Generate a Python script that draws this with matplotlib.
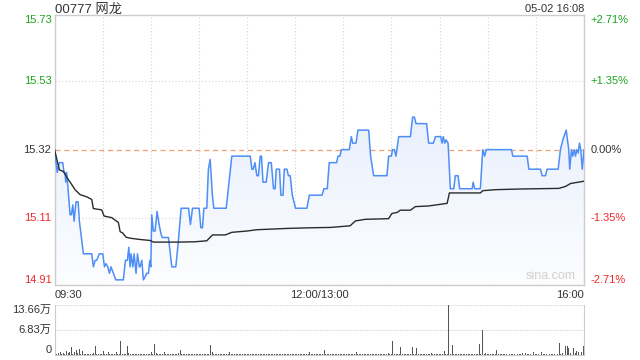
import numpy as np
import matplotlib
matplotlib.use("Agg")
import matplotlib.pyplot as plt
from matplotlib.colors import LinearSegmentedColormap

plt.rcParams["font.family"] = ["Liberation Sans", "Noto Sans CJK SC", "DejaVu Sans"]

TITLE = "00777 网龙"
STAMP = "05-02 16:08"
PREV_CLOSE = 15.32
PRICE_TICKS = [15.73, 15.53, 15.32, 15.11, 14.91]
PCT_LABELS = ["+2.71%", "+1.35%", "0.00%", "-1.35%", "-2.71%"]
TIME_LABELS = ["09:30", "12:00/13:00", "16:00"]
VOL_TICKS = [0, 6.83, 13.66]
VOL_LABELS = ["0", "6.83万", "13.66万"]

# price line, minutes after open (0..330, lunch break removed)
price_min = [0, 1.7, 3.0, 5.1, 5.9, 6.5, 7.0, 7.6, 8.6, 9.7, 10.5, 11.4, 12.2, 13.4, 14.7,
             15.5, 17.0, 18.0, 23.2, 24.2, 25.3, 26.3, 27.9, 30.1, 31.1, 32.1, 33.2, 34.2,
             35.2, 36.7, 38.2, 42.9, 44.2, 45.4, 46.3, 47.1, 47.7, 48.8, 49.6, 50.8, 51.7,
             52.9, 53.3, 54.4, 55.4, 56.5, 57.5, 58.5, 59.4, 60.0, 60.6, 61.6, 62.7, 63.9,
             65.2, 66.4, 67.2, 71.0, 73.1, 75.6, 77.2, 78.9, 83.5, 84.7, 86.0, 90.1, 91.2,
             92.2, 93.1, 94.9, 95.9, 97.0, 98.4, 99.3, 107.0, 110.5, 122.0, 123.0, 123.8,
             124.9, 126.1, 127.1, 128.2, 129.0, 129.9, 131.9, 133.4, 135.1, 136.5, 137.5,
             138.2, 140.2, 141.1, 142.4, 143.2, 144.8, 145.8, 146.9, 148.2, 150.2, 157.3,
             158.8, 166.7, 167.9, 170.0, 171.2, 175.8, 176.7, 177.9, 178.7, 183.7, 185.0,
             185.8, 187.9, 189.1, 195.8, 197.0, 198.9, 207.2, 208.2, 209.9, 210.7, 211.8,
             212.8, 214.5, 221.8, 223.2, 224.3, 225.3, 231.9, 233.2, 236.1, 237.4, 240.7,
             241.5, 242.3, 243.2, 244.0, 245.3, 246.7, 248.8, 249.8, 251.5, 252.5, 260.3,
             260.9, 261.9, 265.4, 266.9, 268.1, 269.0, 284.8, 285.6, 294.6, 295.6, 302.9,
             303.9, 306.0, 307.0, 313.9, 315.3, 316.8, 318.9, 320.5, 321.1, 322.2, 323.0,
             323.9, 324.7, 325.5, 326.4, 327.2, 328.0, 328.9, 330.0]
price = [15.32, 15.25, 15.28, 15.28, 15.25, 15.25, 15.22, 15.25, 15.19, 15.12, 15.12, 15.15,
         15.10, 15.16, 15.16, 15.10, 15.04, 15.00, 15.00, 14.96, 14.98, 14.98, 15.00, 15.00,
         14.96, 14.97, 14.96, 14.94, 14.96, 14.94, 14.92, 14.92, 14.98, 14.98, 15.02, 14.96,
         15.00, 14.96, 15.00, 14.94, 15.00, 14.96, 14.96, 14.98, 14.92, 14.93, 14.94, 14.94,
         14.98, 14.96, 15.12, 15.07, 15.07, 15.13, 15.09, 15.06, 15.05, 15.05, 14.96, 14.96,
         15.04, 15.14, 15.14, 15.09, 15.14, 15.14, 15.08, 15.08, 15.14, 15.14, 15.26, 15.29,
         15.18, 15.14, 15.14, 15.30, 15.30, 15.26, 15.26, 15.28, 15.24, 15.24, 15.30, 15.30,
         15.22, 15.22, 15.28, 15.28, 15.20, 15.20, 15.26, 15.26, 15.18, 15.18, 15.26, 15.26,
         15.24, 15.24, 15.18, 15.14, 15.14, 15.18, 15.18, 15.20, 15.20, 15.28, 15.28, 15.30,
         15.30, 15.32, 15.32, 15.36, 15.34, 15.34, 15.38, 15.38, 15.30, 15.24, 15.24, 15.30,
         15.30, 15.32, 15.32, 15.30, 15.36, 15.36, 15.42, 15.42, 15.40, 15.40, 15.34, 15.34,
         15.36, 15.36, 15.34, 15.36, 15.34, 15.35, 15.34, 15.20, 15.20, 15.24, 15.24, 15.20,
         15.20, 15.22, 15.20, 15.20, 15.32, 15.30, 15.32, 15.32, 15.30, 15.30, 15.26, 15.26,
         15.24, 15.24, 15.26, 15.26, 15.32, 15.35, 15.38, 15.32, 15.26, 15.32, 15.30, 15.32,
         15.30, 15.32, 15.31, 15.34, 15.32, 15.26, 15.32]

# average price line
avg_min = [0, 3.0, 5.5, 8.6, 10.7, 12.8, 15.9, 20.1, 23.2, 24.2, 29.4, 30.9, 35.7, 39.8,
           40.9, 42.5, 44.6, 47.1, 53.3, 59.6, 61.6, 77.2, 87.6, 94.9, 98.4, 106.4, 110.5,
           119.9, 126.1, 144.8, 159.4, 171.7, 184.2, 187.5, 193.7, 208.2, 210.3, 213.5,
           215.5, 221.8, 224.9, 233.2, 244.7, 246.1, 265.4, 266.9, 274.8, 289.3, 314.3,
           318.5, 321.6, 329.9]
avg = [15.32, 15.258, 15.253, 15.228, 15.213, 15.197, 15.182, 15.175, 15.167, 15.139,
       15.135, 15.116, 15.111, 15.096, 15.068, 15.064, 15.051, 15.048, 15.044, 15.041,
       15.036, 15.036, 15.037, 15.040, 15.058, 15.058, 15.066, 15.070, 15.074, 15.078,
       15.080, 15.081, 15.086, 15.101, 15.106, 15.108, 15.124, 15.127, 15.134, 15.134,
       15.145, 15.147, 15.155, 15.187, 15.187, 15.194, 15.197, 15.199, 15.201, 15.207,
       15.216, 15.223]

# volume per minute, in 万 shares
volume = [
    0.4, 0.3, 0.5, 0.9, 0.4, 0.6, 0.3, 1.2, 0.5, 0.9, 2.1, 0.4, 0.9, 1.4, 0.5, 1.6, 0.4, 1.0, 0.3, 0.2,
    0.3, 0.4, 0.2, 0.3, 0.5, 2.4, 0.3, 0.2, 0.4, 0.3,
    1.2, 0.3, 0.2, 0.9, 0.4, 0.3, 0.2, 0.4, 0.7, 0.3, 0.2, 3.7, 0.4, 0.3, 0.2, 2.5, 0.6, 0.3, 0.2, 0.3,
    0.2, 0.4, 0.3, 0.2, 0.3, 0.2, 0.4, 0.2, 0.3, 0.2,
    0.7, 0.3, 2.9, 0.5, 0.3, 0.2, 0.4, 0.3, 0.9, 0.2, 0.3, 0.2, 0.4, 0.3, 0.2, 0.3, 0.4, 0.6, 1.5, 0.4,
    0.3, 0.2, 0.3, 0.2, 0.4, 0.2, 0.3, 0.2, 0.3, 0.2,
    0.3, 0.2, 0.4, 0.2, 0.3, 0.2, 0.3, 2.8, 0.9, 0.4, 0.3, 0.2, 0.3, 0.2, 0.4, 0.2, 0.3, 0.2, 0.2, 0.9,
    0.3, 0.2, 0.3, 0.2, 0.2, 0.3, 0.2, 0.4, 0.2, 0.3,
    0.2, 0.3, 0.2, 0.4, 0.2, 0.2, 0.3, 0.2, 0.4, 0.2, 0.3, 0.2, 0.2, 0.3, 0.2, 0.4, 0.2, 0.3, 0.2, 0.2,
    0.3, 0.2, 0.4, 0.2, 0.2, 0.3, 0.2, 0.3, 0.2, 0.4,
    0.3, 0.2, 0.3, 0.2, 0.4, 0.2, 0.3, 0.2, 0.3, 0.9, 0.2, 0.3, 0.2, 0.4, 0.2, 0.3, 0.2, 0.3, 1.45, 0.3,
    0.2, 0.3, 0.2, 0.4, 0.2, 0.3, 0.2, 0.3, 0.2, 0.4,
    0.2, 0.3, 0.2, 0.3, 0.4, 0.2, 0.3, 0.2, 0.9, 0.3, 0.2, 0.4, 0.2, 0.3, 0.2, 0.3, 0.2, 0.4, 0.3, 0.2,
    0.3, 0.2, 0.3, 0.2, 0.4, 0.2, 0.3, 0.2, 0.6, 0.3,
    0.3, 3.9, 0.4, 0.2, 0.3, 0.2, 2.3, 0.3, 0.2, 0.3, 0.2, 0.4, 0.2, 2.3, 0.3, 0.2, 1.8, 0.3, 0.2, 0.3,
    0.2, 0.3, 0.2, 0.4, 0.2, 0.5, 0.3, 0.2, 0.3, 0.2,
    0.3, 0.2, 0.4, 1.2, 0.3, 0.2, 13.66, 0.4, 2.8, 0.3, 0.2, 0.3, 0.2, 0.3, 0.2, 0.4, 0.2, 0.3, 0.2, 0.3,
    0.2, 0.3, 0.2, 0.3, 0.2, 3.1, 0.3, 6.9, 0.4, 0.6,
    0.3, 0.2, 0.3, 0.2, 0.4, 0.2, 1.4, 0.4, 0.3, 0.2, 0.3, 0.2, 0.3, 0.2, 0.3, 0.2, 0.4, 0.2, 0.3, 0.2,
    0.3, 0.2, 0.6, 0.3, 0.6, 0.2, 0.3, 0.4, 0.3, 0.9,
    0.3, 0.2, 0.4, 0.3, 0.8, 0.2, 0.3, 0.2, 0.4, 0.3, 0.2, 0.3, 0.4, 0.5, 0.3, 3.3, 0.4, 0.6, 0.8, 2.5,
    2.5, 2.0, 0.5, 0.7, 1.9, 0.6, 1.2, 0.8, 1.4, 0.7, 2.5,
]

GREEN = "#1aa51a"
RED = "#f02828"
DARK = "#333333"
GRID = "#cccccc"
DOT = "#d4d4d4"
BLUE = "#4e8ef7"

Y_LO = PREV_CLOSE * (1 - 0.0271)
Y_HI = PREV_CLOSE * (1 + 0.0271)

fig = plt.figure(figsize=(6.4, 3.6), dpi=100)
ax = fig.add_axes([0.0852, 0.2089, 0.8273, 0.7508])
axv = fig.add_axes([0.0852, 0.0139, 0.8273, 0.1389])

# ---- price panel
for s in ax.spines.values():
    s.set_color(GRID)
    s.set_linewidth(1)
ax.set_xlim(0, 330)
ax.set_ylim(Y_LO, Y_HI)

for xm in range(30, 330, 30):
    ax.axvline(xm, color=DOT, lw=0.8, ls=(0, (1, 2)), zorder=0)
for yv in [15.53, 15.11]:
    ax.axhline(yv, color=DOT, lw=0.8, ls=(0, (1, 2)), zorder=0)
ax.axhline(PREV_CLOSE, color="#f0a070", lw=0.9, ls=(0, (4, 3)), zorder=1)

poly = ax.fill_between(price_min, price, Y_LO, color="none")
cmap = LinearSegmentedColormap.from_list("fill", ["#fcfdff", "#dde8fb"])
grad = np.linspace(0, 1, 256).reshape(-1, 1)
im = ax.imshow(grad, extent=[0, 330, Y_LO, Y_HI], aspect="auto", cmap=cmap,
               origin="lower", zorder=1)
im.set_clip_path(poly.get_paths()[0], transform=ax.transData)

ax.plot(price_min, price, color=BLUE, lw=1.1, zorder=3)
ax.plot(avg_min, avg, color="#2b2b2b", lw=1.0, zorder=3)
ax.set_xlim(0, 330)
ax.set_ylim(Y_LO, Y_HI)

ax.set_xticks([])
ax.set_yticks([])
colors = [GREEN, GREEN, DARK, RED, RED]
vas = ["top", "center", "center", "center", "bottom"]
for i, p in enumerate(PRICE_TICKS):
    yv = [Y_HI, 15.53, PREV_CLOSE, 15.11, Y_LO][i]
    ax.text(-0.006, yv, f"{p:.2f}", transform=ax.get_yaxis_transform(), ha="right",
            va=vas[i], color=colors[i], fontsize=8)
    ax.text(1.012, yv, PCT_LABELS[i], transform=ax.get_yaxis_transform(), ha="left",
            va=vas[i], color=colors[i], fontsize=8)

fig.text(0.0852, 1 - 12.5 / 360, TITLE, ha="left", va="baseline", color=DARK, fontsize=9.5)
fig.text(0.9125, 1 - 12.5 / 360, STAMP, ha="right", va="baseline", color=DARK, fontsize=8)
ax.text(0, -0.02, TIME_LABELS[0], transform=ax.transAxes, ha="left", va="top", color=DARK, fontsize=8)
ax.text(0.5, -0.02, TIME_LABELS[1], transform=ax.transAxes, ha="center", va="top", color=DARK, fontsize=8)
ax.text(1, -0.02, TIME_LABELS[2], transform=ax.transAxes, ha="right", va="top", color=DARK, fontsize=8)
ax.text(0.985, 0.012, "sina.com", transform=ax.transAxes, ha="right", va="bottom",
        color="#d0d0d0", fontsize=9)

# ---- volume panel
axv.set_xlim(-0.5, 330.5)
axv.set_ylim(0, 13.66)
for k in ["left", "right", "bottom"]:
    axv.spines[k].set_color(GRID)
axv.spines["top"].set_visible(False)
axv.axhline(13.66, color=DOT, lw=0.8, ls=(0, (1, 1)), zorder=0)
axv.axhline(6.83, color=DOT, lw=0.8, ls=(0, (1, 1)), zorder=0)
axv.bar(np.arange(len(volume)), volume, width=0.6, color="#555555", zorder=2)
axv.set_xticks([])
axv.set_yticks([])
vvas = ["bottom", "center", "top"]
for i, v in enumerate(VOL_TICKS):
    axv.text(-0.006, v, VOL_LABELS[i], transform=axv.get_yaxis_transform(), ha="right",
             va=vvas[i], color=DARK, fontsize=8)

fig.savefig("out.png", dpi=100)
